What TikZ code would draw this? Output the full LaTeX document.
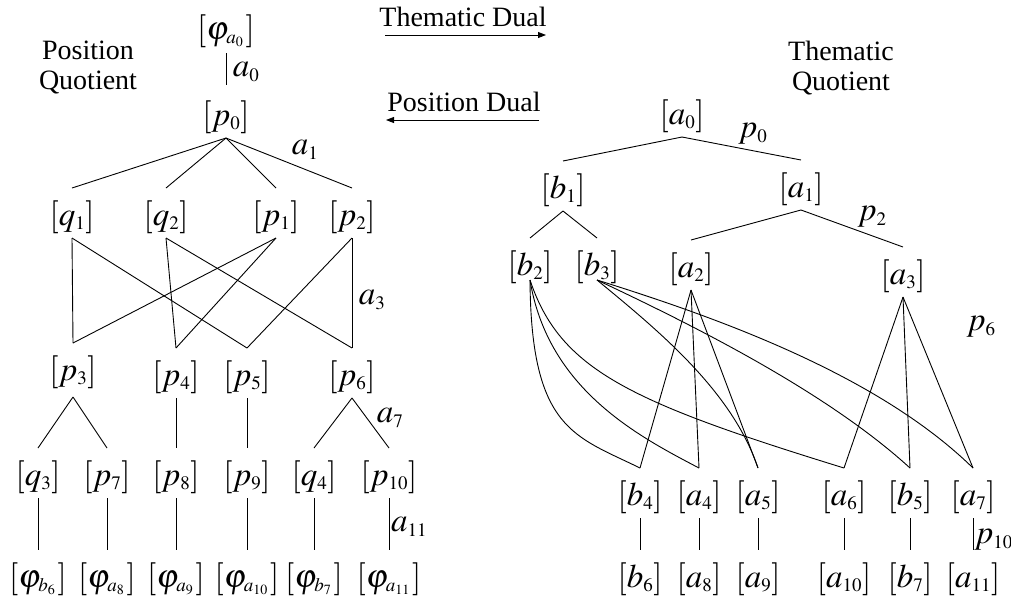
\documentclass[tikz,border=0pt]{standalone}
\usepackage{mathptmx}
\usepackage[no-math]{fontspec}
\setmainfont{Liberation Serif}
\DeclareMathSizes{33}{33}{19}{14}
\usetikzlibrary{arrows.meta}
\begin{document}
\begin{tikzpicture}[x=1pt,y=-1pt,
  every node/.style={font=\fontsize{28}{30}\selectfont},
  m/.style={anchor=base,inner sep=0pt,outer sep=0pt,text height=37pt,text depth=13pt,font=\fontsize{33}{36}\selectfont},
  lab/.style={inner sep=0pt,font=\fontsize{33}{36}\selectfont},
  txt/.style={align=center,inner sep=0pt},
  edge/.style={line width=0.9pt},
  arr/.style={line width=0.9pt,-{Triangle[length=8pt,width=6pt]}}]
\useasboundingbox (0,0) rectangle (1011,603);
% ---------- left: position quotient ----------
\node[txt] (pq) at (88,67) {Position\\Quotient};
\node[m] (phA0) at (226,39) {$[\varphi_{a_0}\mkern1mu]$};
\node[m] (p0) at (226,125) {$[p_0]$};
\node[m] (q1) at (72,225) {$[q_1]$};
\node[m] (q2) at (166,225) {$[q_2]$};
\node[m] (p1) at (276,225) {$[p_1]$};
\node[m] (p2) at (352,225) {$[p_2]$};
\node[m] (p3) at (73,380) {$[p_3]$};
\node[m] (p4) at (176,385) {$[p_4]$};
\node[m] (p5) at (247,385) {$[p_5]$};
\node[m] (p6) at (352,385) {$[p_6]$};
\node[m] (q3) at (38,485) {$[q_3]$};
\node[m] (p7) at (107,485) {$[p_7]$};
\node[m] (p8) at (176,485) {$[p_8]$};
\node[m] (p9) at (247,485) {$[p_9]$};
\node[m] (q4) at (314,485) {$[q_4]$};
\node[m] (p10) at (389,485) {$[p_{10}]$};
\node[m] (phb6) at (38,587) {$[\varphi_{b_6}\mkern1mu]$};
\node[m] (pha8) at (107,587) {$[\varphi_{a_8}\mkern1mu]$};
\node[m] (pha9) at (176,587) {$[\varphi_{a_9}\mkern1mu]$};
\node[m] (pha10) at (247,587) {$[\varphi_{a_{10}}\mkern1mu]$};
\node[m] (phb7) at (314,587) {$[\varphi_{b_7}\mkern1mu]$};
\node[m] (pha11) at (389,587) {$[\varphi_{a_{11}}\mkern1mu]$};
\node[lab] (la0) at (246,72) {$a_0$};
\node[lab] (la1) at (305,150) {$a_1$};
\node[lab] (la3) at (372,300) {$a_3$};
\node[lab] (la7) at (390,418) {$a_7$};
\node[lab] (la11) at (409,527) {$a_{11}$};
\draw[edge] ([yshift=-1pt]phA0.south) -- ([yshift=3pt]p0.north);
\foreach \c in {q1,q2,p1,p2} \draw[edge] (p0.south) -- (\c.north);
\draw[edge] (q1.south) -- (p3.north);
\draw[edge] (q1.south) -- (p5.north);
\draw[edge] (q2.south) -- (p4.north);
\draw[edge] (q2.south) -- (p6.north);
\draw[edge] (p1.south) -- (p3.north);
\draw[edge] (p1.south) -- (p4.north);
\draw[edge] (p2.south) -- (p5.north);
\draw[edge] (p2.south) -- (p6.north);
\draw[edge] ([yshift=-4pt]p3.south) -- (q3.north);
\draw[edge] ([yshift=-4pt]p3.south) -- (p7.north);
\draw[edge] (p4.south) -- (p8.north);
\draw[edge] (p5.south) -- (p9.north);
\draw[edge] (p6.south) -- (q4.north);
\draw[edge] (p6.south) -- (p10.north);
\draw[edge] (q3.south) -- (phb6.north);
\draw[edge] (p7.south) -- (pha8.north);
\draw[edge] (p8.south) -- (pha9.north);
\draw[edge] (p9.south) -- (pha10.north);
\draw[edge] (q4.south) -- (phb7.north);
\draw[edge] (p10.south) -- (pha11.north);
% ---------- middle: duals ----------
\node[txt] (td) at (463,17) {Thematic Dual};
\coordinate (tdA) at (385,35);
\coordinate (tdB) at (546,35);
\draw[arr] (tdA) -- (tdB);
\node[txt] (pd) at (464,102) {Position Dual};
\coordinate (pdA) at (539,120);
\coordinate (pdB) at (386,120);
\draw[arr] (pdA) -- (pdB);
% ---------- right: thematic quotient ----------
\node[txt] (tq) at (841,68) {Thematic\\Quotient};
\node[m] (a0) at (682,124) {$[a_0]$};
\node[m] (b1) at (563,198) {$[b_1]$};
\node[m] (a1) at (801,197) {$[a_1]$};
\node[m] (b2) at (530,275) {$[b_2]$};
\node[m] (b3) at (597,275) {$[b_3]$};
\node[m] (a2) at (691,277) {$[a_2]$};
\node[m] (a3) at (903,284) {$[a_3]$};
\node[m] (b4) at (640,505) {$[b_4]$};
\node[m] (a4) at (699,505) {$[a_4]$};
\node[m] (a5) at (758,505) {$[a_5]$};
\node[m] (a6) at (844,505) {$[a_6]$};
\node[m] (b5) at (910,505) {$[b_5]$};
\node[m] (a7) at (973,505) {$[a_7]$};
\node[m] (b6) at (640,587) {$[b_6]$};
\node[m] (a8) at (699,587) {$[a_8]$};
\node[m] (a9) at (758,587) {$[a_9]$};
\node[m] (a10) at (844,587) {$[a_{10}]$};
\node[m] (b7) at (910,587) {$[b_7]$};
\node[m] (a11) at (973,587) {$[a_{11}]$};
\node[lab] (lp0) at (753,134) {$p_0$};
\node[lab] (lp2) at (872,217) {$p_2$};
\node[lab] (lp6) at (981,327) {$p_6$};
\node[lab] (lp10) at (993.5,540) {$p_{10}$};
\draw[edge] (a0.south) -- (b1.north);
\draw[edge] (a0.south) -- (a1.north);
\draw[edge] (b1.south) -- (b2.north);
\draw[edge] (b1.south) -- (b3.north);
\draw[edge] (a1.south) -- (a2.north);
\draw[edge] (a1.south) -- (a3.north);
\foreach \c in {b4,a4,a5} \draw[edge] (a2.south) -- (\c.north);
\foreach \c in {a6,b5,a7} \draw[edge] (a3.south) -- (\c.north);
\draw[edge] ([yshift=8pt]b2.south) .. controls (531,430) and (575,436) .. (b4.north);
\draw[edge] ([yshift=8pt]b2.south) .. controls (548,390) and (640,437) .. (a4.north);
\draw[edge] ([yshift=8pt]b2.south) .. controls (560,370) and (630,402) .. (a6.north);
\draw[edge] ([yshift=8pt]b3.south) .. controls (659,331) and (732,391) .. (a5.north);
\draw[edge] ([yshift=8pt]b3.south) .. controls (697,327) and (828,393) .. (b5.north);
\draw[edge] ([yshift=8pt]b3.south) .. controls (722,319) and (879,376) .. (a7.north);
\foreach \u/\l in {b4/b6,a4/a8,a5/a9,a6/a10,b5/b7,a7/a11} \draw[edge] (\u.south) -- (\l.north);
\end{tikzpicture}
\end{document}
